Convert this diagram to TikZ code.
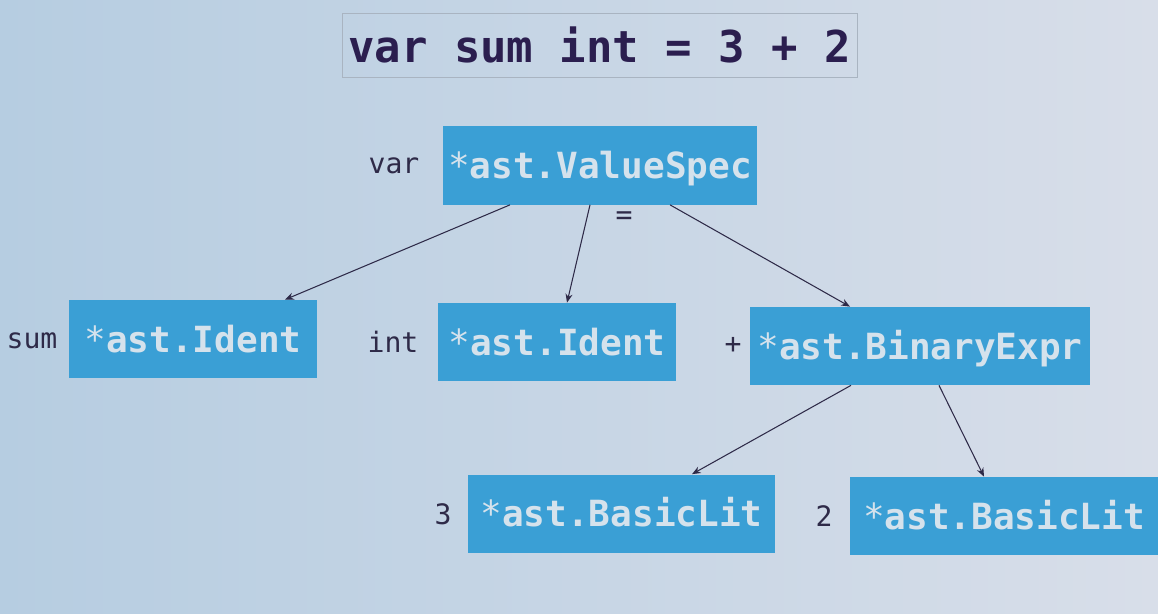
\documentclass[tikz,border=0pt]{standalone}
\usepackage{fontspec}
\setmonofont{DejaVu Sans Mono}
\usepackage{xcolor}
\usetikzlibrary{arrows.meta}
\definecolor{bgleft}{HTML}{B6CDE1}
\definecolor{bgright}{HTML}{D8DEE9}
\definecolor{boxblue}{HTML}{3A9FD5}
\definecolor{boxtext}{HTML}{D5E2EC}
\definecolor{ink}{HTML}{2E2A48}
\definecolor{titleink}{HTML}{2B1E4F}
\definecolor{titleframe}{HTML}{A9B4C1}
\newcommand{\aststar}{{\mdseries *}}

\begin{document}
\begin{tikzpicture}[
		astbox/.style={fill=boxblue,text=boxtext,font=\ttfamily\bfseries\fontsize{20.5}{24}\selectfont,inner sep=0pt,minimum height=1.56cm,text height=15pt,text depth=0pt},
		srclabel/.style={text=ink,font=\ttfamily\fontsize{16}{19}\selectfont,inner sep=0pt},
		astedge/.style={draw=ink,line width=0.6pt,-{Stealth[length=5pt,width=4pt]}}]
		\fill[left color=bgleft,right color=bgright] (0,0) rectangle (23.16,12.26);
		\useasboundingbox (0,0) rectangle (23.16,12.26);
		% source line
		\node[draw=titleframe,line width=0.5pt,minimum width=10.3cm,minimum height=1.28cm,text=titleink,font=\ttfamily\bfseries\fontsize{25}{30}\selectfont] (src) at (11.99,11.36) {var sum int = 3 + 2};
		% tree
		\node[astbox,minimum width=6.28cm] (vs) at (12.0,8.95) {\aststar ast.ValueSpec};
		\node[astbox,minimum width=4.96cm] (id1) at (3.86,5.48) {\aststar ast.Ident};
		\node[astbox,minimum width=4.76cm] (id2) at (11.14,5.42) {\aststar ast.Ident};
		\node[astbox,minimum width=6.8cm] (be) at (18.4,5.34) {\aststar ast.BinaryExpr};
		\node[astbox,minimum width=6.14cm] (bl1) at (12.43,1.99) {\aststar ast.BasicLit};
		\node[astbox,minimum width=6.16cm] (bl2) at (20.08,1.94) {\aststar ast.BasicLit};
		\foreach \n/\x/\y/\t in {lvar/7.88/8.94/var,lsum/0.64/5.44/sum,lint/7.86/5.42/int,lplus/14.66/5.36/+,lthree/8.86/1.98/3,ltwo/16.48/1.94/2,leq/12.48/7.9/=} \node[srclabel] (\n) at (\x,\y) {\t};
		\draw[astedge] ([xshift=-1.8cm]vs.south) -- ([xshift=1.84cm]id1.north);
		\draw[astedge] ([xshift=-0.2cm]vs.south) -- ([xshift=0.2cm]id2.north);
		\draw[astedge] ([xshift=1.4cm]vs.south) -- ([xshift=-1.4cm]be.north);
		\draw[astedge] ([xshift=-1.38cm]be.south) -- ([xshift=1.41cm]bl1.north);
		\draw[astedge] ([xshift=0.38cm]be.south) -- ([xshift=-0.4cm]bl2.north);
	\end{tikzpicture}
\end{document}
